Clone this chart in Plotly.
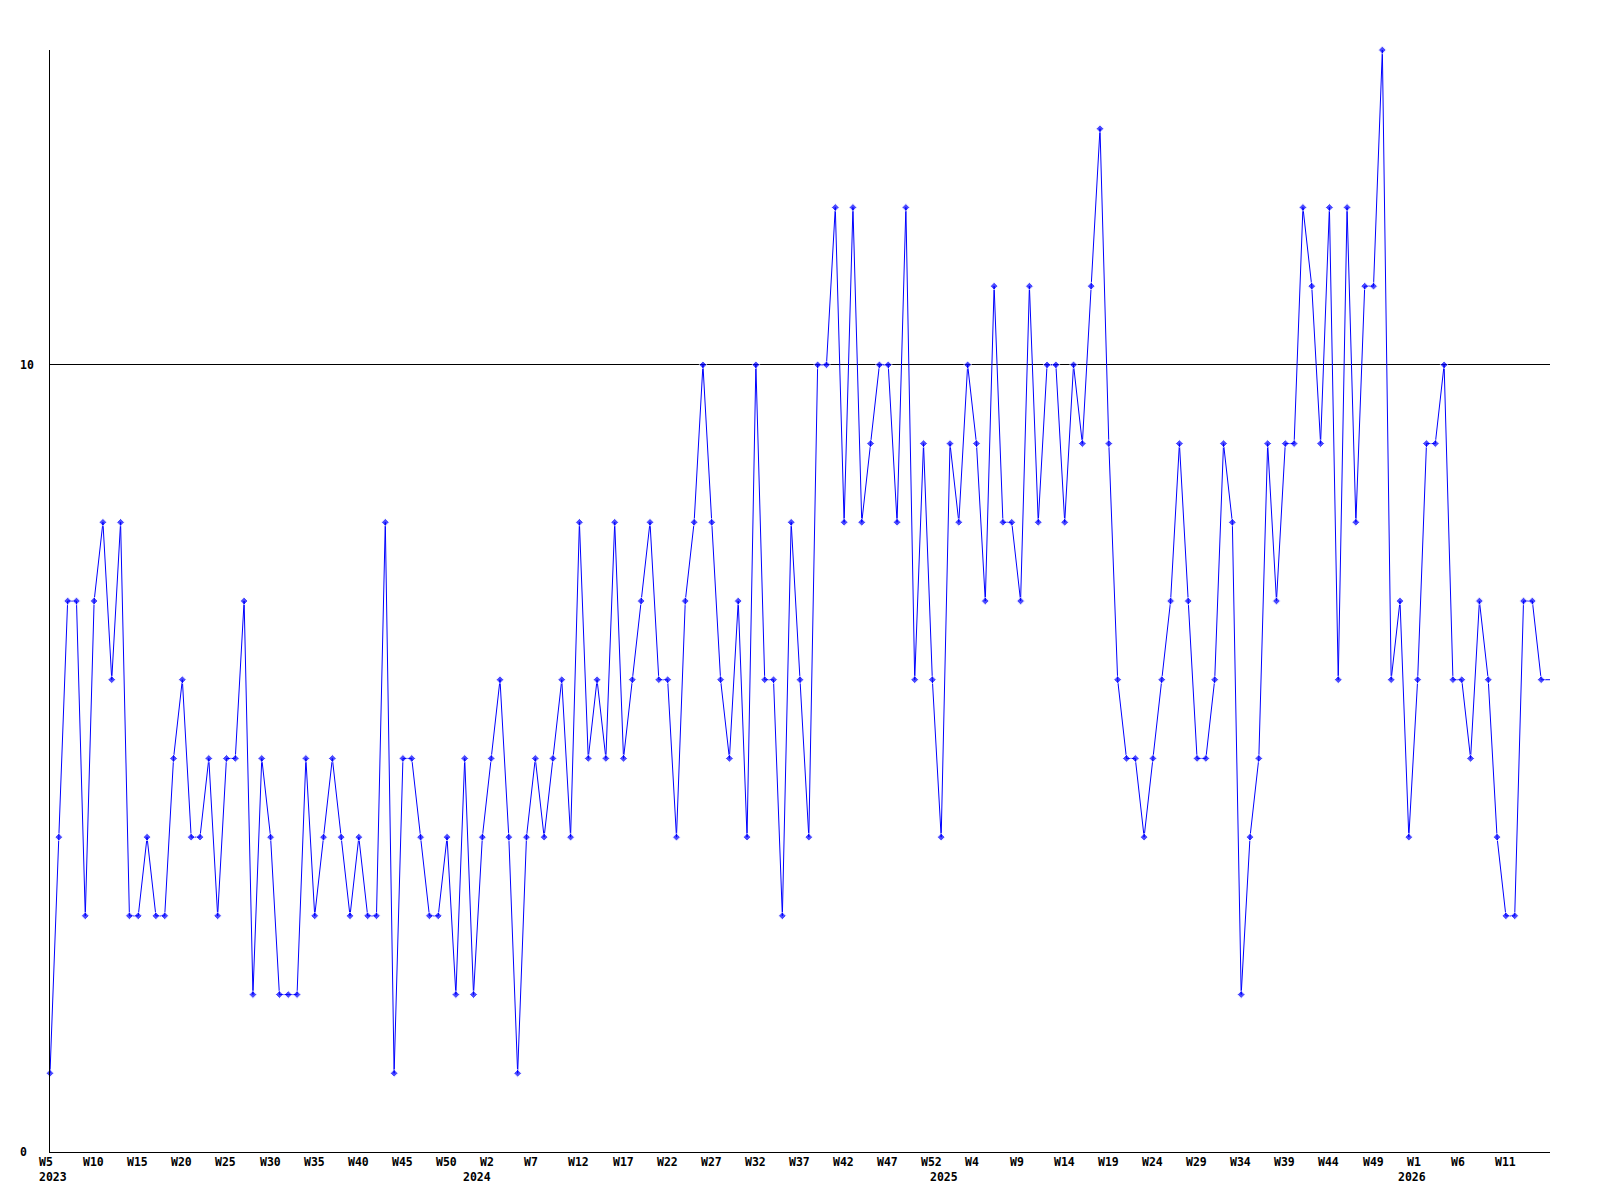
import plotly.graph_objects as go

# weekly counts, first point = 2023 W5, last value is the running (partial) week at the right edge
counts = [
    1, 4, 7, 7, 3, 7, 8, 6, 8, 3,
    3, 4, 3, 3, 5, 6, 4, 4, 5, 3,
    5, 5, 7, 2, 5, 4, 2, 2, 2, 5,
    3, 4, 5, 4, 3, 4, 3, 3, 8, 1,
    5, 5, 4, 3, 3, 4, 2, 5, 2, 4,
    5, 6, 4, 1, 4, 5, 4, 5, 6, 4,
    8, 5, 6, 5, 8, 5, 6, 7, 8, 6,
    6, 4, 7, 8, 10, 8, 6, 5, 7, 4,
    10, 6, 6, 3, 8, 6, 4, 10, 10, 12,
    8, 12, 8, 9, 10, 10, 8, 12, 6, 9,
    6, 4, 9, 8, 10, 9, 7, 11, 8, 8,
    7, 11, 8, 10, 10, 8, 10, 9, 11, 13,
    9, 6, 5, 5, 4, 5, 6, 7, 9, 7,
    5, 5, 6, 9, 8, 2, 4, 5, 9, 7,
    9, 9, 12, 11, 9, 12, 6, 12, 8, 11,
    11, 14, 6, 7, 4, 6, 9, 9, 10, 6,
    6, 5, 7, 6, 4, 3, 3, 7, 7, 6,
    6,
]
week_idx = list(range(len(counts)))

week_tick_pos = [0, 5, 10, 15, 20, 25, 30, 35, 40, 45,
                 50, 55, 60, 65, 70, 75, 80, 85, 90, 95, 100,
                 105, 110, 115, 120, 125, 130, 135, 140, 145, 150,
                 155, 160, 165]
week_tick_text = ["W5", "W10", "W15", "W20", "W25", "W30", "W35", "W40", "W45", "W50",
                  "W2", "W7", "W12", "W17", "W22", "W27", "W32", "W37", "W42", "W47", "W52",
                  "W4", "W9", "W14", "W19", "W24", "W29", "W34", "W39", "W44", "W49",
                  "W1", "W6", "W11"]
year_pos = [0, 48, 101, 154]
year_text = ["2023", "2024", "2025", "2026"]
y_ticks = [0, 10]

FONT = dict(family="DejaVu Sans Mono", size=11.5, color="black", weight="bold")

# last value is only the line running to the edge, no marker there
marker_sizes = [6] * (len(counts) - 1) + [0]

fig = go.Figure()
fig.add_trace(go.Scatter(
    x=week_idx,
    y=counts,
    mode="lines+markers",
    line=dict(color="#0000ff", width=1),
    marker=dict(symbol="diamond", size=marker_sizes, color="#0000ff"),
    cliponaxis=False,
    hoverinfo="x+y",
))

# tick labels as left-aligned text, like the original renderer
annotations = []
for pos, txt in zip(week_tick_pos, week_tick_text):
    annotations.append(dict(x=pos, y=0, xref="x", yref="paper", text=txt,
                            showarrow=False, xanchor="left", yanchor="top",
                            xshift=-13, yshift=-1, font=FONT))
for pos, txt in zip(year_pos, year_text):
    annotations.append(dict(x=pos, y=0, xref="x", yref="paper", text=txt,
                            showarrow=False, xanchor="left", yanchor="top",
                            xshift=-13, yshift=-16, font=FONT))
for v in y_ticks:
    annotations.append(dict(x=0, y=v, xref="paper", yref="y", text=str(v),
                            showarrow=False, xanchor="left", yanchor="middle",
                            xshift=-32, font=FONT))

# page body has an 8px margin, so margins are trimmed to land the plot at 50..1550 x 50..1152
fig.update_layout(
    width=1600,
    height=1200,
    margin=dict(l=42, r=58, t=42, b=56),
    plot_bgcolor="white",
    paper_bgcolor="white",
    showlegend=False,
    annotations=annotations,
    xaxis=dict(range=[0, 170], showgrid=False, zeroline=False, showticklabels=False,
               ticks="", showline=True, linecolor="black", linewidth=1),
    yaxis=dict(range=[0, 14], tickvals=[10], showgrid=True, gridcolor="black", gridwidth=1,
               zeroline=False, showticklabels=False, ticks="",
               showline=True, linecolor="black", linewidth=1),
)

fig.write_html("out.html")
